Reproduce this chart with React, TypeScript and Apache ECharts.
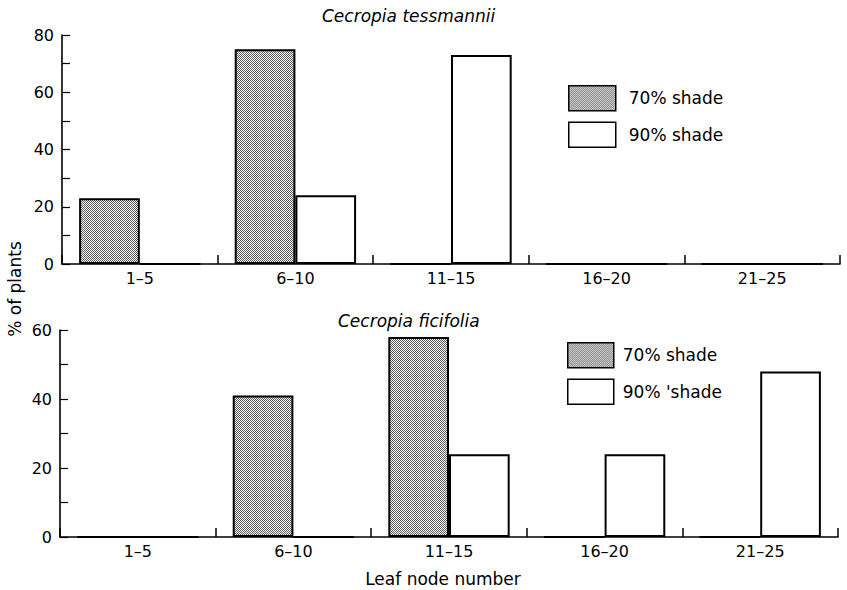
import React, { useEffect, useRef } from "react";
import * as echarts from "echarts";

const categories = ["1–5", "6–10", "11–15", "16–20", "21–25"];
const tessmannii70 = [23, 75, 0, 0, 0];
const tessmannii90 = [0, 24, 73, 0, 0];
const ficifolia70 = [0, 41, 58, 0, 0];
const ficifolia90 = [0, 0, 24, 24, 48];
const topYTicks = { min: 0, max: 80, interval: 20 };
const bottomYTicks = { min: 0, max: 60, interval: 20 };
const legendTop = ["70% shade", "90% shade"];
const legendBottom = ["70% shade", "90% 'shade"];

const FONT = "'DejaVu Sans', sans-serif";

function makePattern() {
  const c = document.createElement("canvas");
  c.width = 2;
  c.height = 2;
  const ctx = c.getContext("2d")!;
  ctx.fillStyle = "#ffffff";
  ctx.fillRect(0, 0, 2, 2);
  ctx.fillStyle = "#5a5a5a";
  ctx.fillRect(0, 0, 1, 1);
  ctx.fillRect(1, 1, 1, 1);
  return { image: c, repeat: "repeat", imageWidth: 2, imageHeight: 2 } as any;
}

export default function App() {
  const ref = useRef<HTMLDivElement>(null);
  useEffect(() => {
    if (!ref.current) return;
    const chart = echarts.init(ref.current, null, { renderer: "svg" });
    const pattern = makePattern();
    const axisLine = { show: true, lineStyle: { color: "#000", width: 1.6 } };
    const xAxisCommon = (gridIndex: number) => ({
      type: "category",
      gridIndex,
      data: categories,
      boundaryGap: true,
      axisLine,
      axisTick: { show: true, inside: true, length: 9, interval: 0, lineStyle: { color: "#000", width: 1.5 } },
      axisLabel: { color: "#000", fontFamily: FONT, fontSize: 16, margin: 6, interval: 0 },
      splitLine: { show: false },
    });
    const yAxisCommon = (gridIndex: number, t: any) => ({
      type: "value",
      gridIndex,
      min: t.min,
      max: t.max,
      interval: t.interval,
      axisLine,
      axisTick: { show: true, inside: true, length: 8, lineStyle: { color: "#000", width: 1.2 } },
      minorTick: { show: true, splitNumber: 2, length: 8, lineStyle: { color: "#000", width: 1.2 } },
      axisLabel: { color: "#000", fontFamily: FONT, fontSize: 16, margin: 8 },
      splitLine: { show: false },
    });
    const barStyle = (fill: any) => ({ color: fill, borderColor: "#000", borderWidth: 2 });
    const titleStyle = { fontFamily: FONT, fontSize: 17, fontStyle: "italic", fontWeight: "normal", color: "#000" };
    const legendCommon = {
      orient: "vertical",
      icon: "rect",
      itemGap: 10,
      padding: 0,
      selectedMode: false,
      itemStyle: { borderColor: "#000", borderWidth: 1.5 },
    };
    chart.setOption({
      animation: false,
      backgroundColor: "#fff",
      title: [
        { text: "Cecropia tessmannii", left: 322, top: 7, padding: 0, textStyle: titleStyle },
        { text: "Cecropia ficifolia", left: 338, top: 312, padding: 0, textStyle: titleStyle },
      ],
      legend: [
        {
          ...legendCommon,
          data: legendTop,
          left: 568,
          top: 85,
          itemWidth: 47,
          itemHeight: 25,
          textStyle: { fontFamily: FONT, fontSize: 17, color: "#000", padding: [0, 0, 0, 8] },
        },
        {
          ...legendCommon,
          data: legendBottom,
          left: 567,
          top: 342,
          itemWidth: 46,
          itemHeight: 25,
          textStyle: { fontFamily: FONT, fontSize: 17, color: "#000", padding: [0, 0, 0, 4] },
        },
      ],
      grid: [
        { left: 62, right: 7, top: 35, height: 229 },
        { left: 60, right: 9, top: 330, height: 207 },
      ],
      xAxis: [xAxisCommon(0), xAxisCommon(1)],
      yAxis: [yAxisCommon(0, topYTicks), yAxisCommon(1, bottomYTicks)],
      series: [
        { name: legendTop[0], type: "bar", xAxisIndex: 0, yAxisIndex: 0, data: tessmannii70, barGap: "0%", barCategoryGap: "22%", itemStyle: barStyle(pattern) },
        { name: legendTop[1], type: "bar", xAxisIndex: 0, yAxisIndex: 0, data: tessmannii90, barGap: "0%", barCategoryGap: "22%", itemStyle: barStyle("#fff") },
        { name: legendBottom[0], type: "bar", xAxisIndex: 1, yAxisIndex: 1, data: ficifolia70, barGap: "0%", barCategoryGap: "22%", itemStyle: barStyle(pattern) },
        { name: legendBottom[1], type: "bar", xAxisIndex: 1, yAxisIndex: 1, data: ficifolia90, barGap: "0%", barCategoryGap: "22%", itemStyle: barStyle("#fff") },
      ],
      graphic: [
        {
          type: "text",
          x: 15,
          y: 289,
          rotation: Math.PI / 2,
          style: { text: "% of plants", fontFamily: FONT, fontSize: 17, fill: "#000", textAlign: "center", textVerticalAlign: "middle" },
        },
        {
          type: "text",
          x: 443,
          y: 579,
          style: { text: "Leaf node number", fontFamily: FONT, fontSize: 17, fill: "#000", textAlign: "center", textVerticalAlign: "middle" },
        },
      ],
    });
    return () => chart.dispose();
  }, []);
  return <div ref={ref} style={{ position: "fixed", left: 0, top: 0, width: 847, height: 590 }} />;
}
